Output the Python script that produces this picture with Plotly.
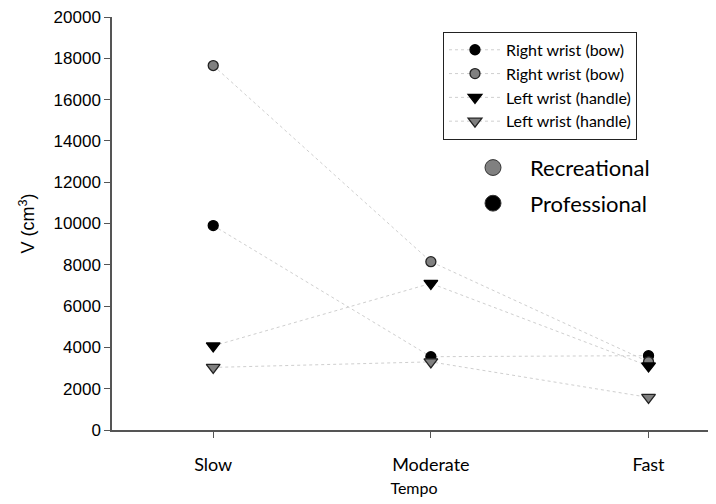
import plotly.graph_objects as go

tempo = ["Slow", "Moderate", "Fast"]
right_pro = [9900, 3550, 3600]
right_rec = [17650, 8150, 3300]
left_pro = [4070, 7100, 3100]
left_rec = [3030, 3300, 1580]

series = [
    ("Right wrist (bow)", right_pro, "circle", "black", "black", 10),
    ("Right wrist (bow)", right_rec, "circle", "#808080", "#222222", 10),
    ("Left wrist (handle)", left_pro, "triangle-down", "black", "black", 12),
    ("Left wrist (handle)", left_rec, "triangle-down", "#808080", "#222222", 12),
]

fig = go.Figure()
for name, vals, sym, fill, edge, sz in series:
    fig.add_trace(go.Scatter(
        x=[0, 1, 2], y=vals, name=name, mode="lines+markers",
        line=dict(color="#cfcfcf", width=1, dash="dot"),
        marker=dict(symbol=sym, color=fill, size=sz, line=dict(color=edge, width=1.3)),
    ))

# page body has an 8px margin: figure spans 8..716 x 8..504 in the window
fig.update_layout(
    width=708, height=496,
    margin=dict(l=104, r=0, t=5, b=74),
    paper_bgcolor="white", plot_bgcolor="white",
    showlegend=True,
    legend=dict(x=0.548, y=0.964, xanchor="left", yanchor="top",
                bordercolor="#222222", borderwidth=1, bgcolor="white",
                font=dict(family="Lato, Open Sans, sans-serif", size=16, color="black"),
                tracegroupgap=0, itemwidth=52, entrywidth=222, entrywidthmode="pixels"),
    font=dict(family="Arial, sans-serif", color="black"),
)

fig.update_xaxes(
    range=[-0.465, 2.31], tickmode="array", tickvals=[0, 1, 2], ticktext=tempo,
    showgrid=False, zeroline=False, showline=True, linecolor="#555555", linewidth=1.5,
    ticks="outside", ticklen=6, tickcolor="#555555", ticklabelstandoff=12,
    tickfont=dict(family="Lato, Open Sans, sans-serif", size=18, color="black"),
    title=dict(text="Tempo", font=dict(family="Lato, Open Sans, sans-serif", size=16, color="black"), standoff=8),
)
fig.update_yaxes(
    range=[0, 20000], dtick=2000, tickformat="d", ticklabeloverflow="allow",
    showgrid=False, zeroline=False, showline=True, linecolor="#555555", linewidth=1.5,
    ticks="outside", ticklen=6, tickcolor="#555555",
    tickfont=dict(family="Arial, sans-serif", size=17, color="black"),
    title=dict(text="V (cm<sup>3</sup>)", font=dict(family="Arial, sans-serif", size=18, color="black"), standoff=14),
)

# group key (Recreational / Professional)
groups = [("Recreational", "#808080", 165), ("Professional", "black", 201)]
for label, col, py in groups:
    yc = 1 - (py - 13) / 417
    fig.add_shape(type="circle", xref="paper", yref="paper",
                  x0=(493 - 8 - 112) / 604, x1=(493 + 8 - 112) / 604,
                  y0=yc - 8 / 417, y1=yc + 8 / 417,
                  fillcolor=col, line=dict(color="#333333", width=1))
    fig.add_annotation(text=label, xref="paper", yref="paper",
                       x=(528 - 112) / 604, y=yc, xanchor="left", yanchor="middle",
                       showarrow=False,
                       font=dict(family="Lato, Open Sans, sans-serif", size=22, color="black"))

fig.write_html("out.html")
